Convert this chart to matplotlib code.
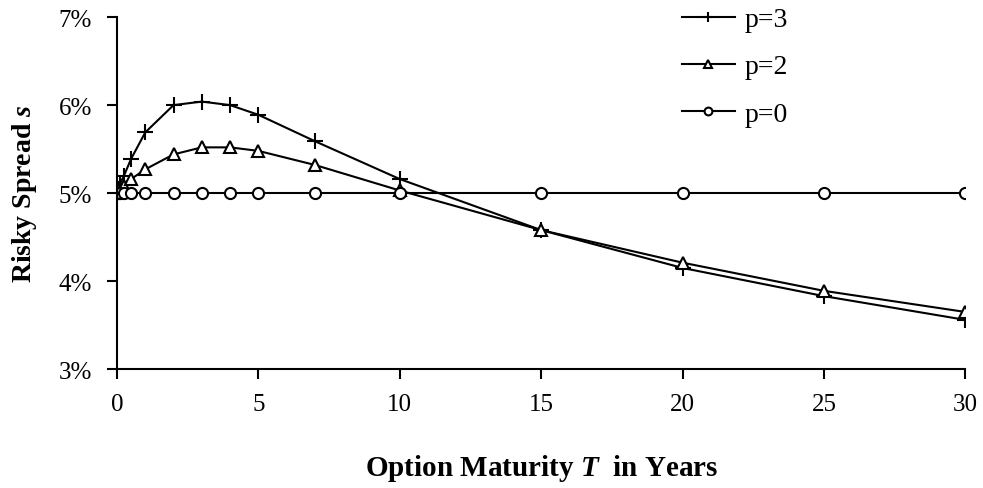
import matplotlib
matplotlib.use('Agg')
import matplotlib.pyplot as plt
import numpy as np
from matplotlib.ticker import FuncFormatter

# option maturity in years and risky spread (%) for each p
maturity = [0, 0.05, 0.1, 0.25, 0.5, 1, 2, 3, 4, 5, 7, 10, 15, 20, 25, 30]
spread_p3 = [5.0, 5.05, 5.1, 5.2, 5.39, 5.69, 6.00, 6.04, 6.00, 5.89, 5.59, 5.16, 4.58, 4.15, 3.83, 3.56]
spread_p2 = [5.0, 5.02, 5.04, 5.08, 5.16, 5.27, 5.44, 5.52, 5.52, 5.48, 5.32, 5.03, 4.58, 4.21, 3.89, 3.65]
spread_p0 = [5.0] * len(maturity)

plt.rcParams['font.family'] = ['Liberation Serif', 'DejaVu Serif']
plt.rcParams['mathtext.fontset'] = 'custom'
plt.rcParams['mathtext.it'] = 'Liberation Serif:italic:bold'
plt.rcParams['mathtext.bf'] = 'Liberation Serif:bold'

fig = plt.figure(figsize=(9.83, 4.89), dpi=100)
ax = fig.add_axes([0.119, 0.243, 0.863, 0.72])

ax.plot(maturity, spread_p3, color='black', lw=1.5, marker='+', ms=11, mew=1.5, label='p=3')
ax.plot(maturity, spread_p2, color='black', lw=1.5, marker='^', ms=9, mew=1.5, mfc='white', label='p=2')
ax.plot(maturity, spread_p0, color='black', lw=1.5, marker='o', ms=8, mew=1.5, mfc='white', label='p=0')

ax.set_xlim(0, 30)
ax.set_ylim(3, 7)
ax.set_xticks([0, 5, 10, 15, 20, 25, 30])
ax.set_yticks([3, 4, 5, 6, 7])
ax.yaxis.set_major_formatter(FuncFormatter(lambda v, p: f'{v:.0f}%'))
ax.spines['top'].set_visible(False)
ax.spines['right'].set_visible(False)
ax.spines['left'].set_linewidth(1.5)
ax.spines['bottom'].set_linewidth(1.5)
ax.tick_params(direction='out', length=7, width=1.5, labelsize=18)
ax.tick_params(axis='x', pad=10)
ax.tick_params(axis='y', pad=11)

ax.set_xlabel(r'Option Maturity $\mathit{T}$  in Years', fontsize=21, fontweight='bold', labelpad=27)
ax.set_ylabel(r'Risky Spread $\mathit{s}$', fontsize=20, fontweight='bold', labelpad=14)

leg = fig.legend(loc='upper left', bbox_to_anchor=(0.668, 1.035), frameon=False, fontsize=20,
                 handlelength=1.93, handletextpad=0.33, labelspacing=0.78, markerscale=0.7)

plt.savefig('out.png', dpi=100)
